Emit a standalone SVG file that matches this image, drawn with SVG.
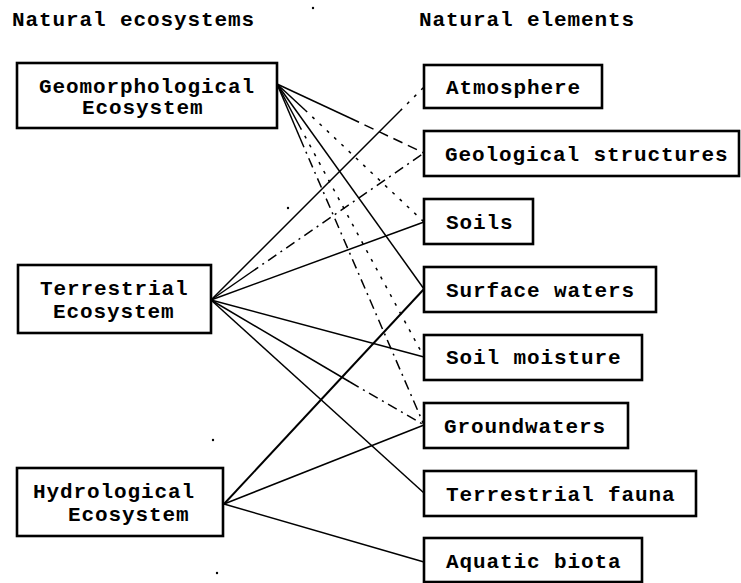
<svg xmlns="http://www.w3.org/2000/svg" width="741" height="583" viewBox="0 0 741 583">
<style>
.t{font-family:"Liberation Mono","Courier New",monospace;font-weight:bold;font-size:21px;letter-spacing:0.9px;fill:#000}
.b{fill:#fff;stroke:#000;stroke-width:2.6}
.c{fill:none;stroke:#000;stroke-width:1.5}
.thick{stroke-width:2}
.dash{stroke-dasharray:10 6}
.dot{stroke-dasharray:3 7}
.dd{stroke-dasharray:10 5 2 5}
</style>
<rect width="741" height="583" fill="#fff"/>
<text class="t" x="12" y="26">Natural ecosystems</text>
<text class="t" x="419" y="26">Natural elements</text>
<g id="connectors">
<path class="c" d="M277,84 L350,118"/>
<path class="c dash" d="M350,118 L424,153"/>
<path class="c" d="M277,84 L305,110"/>
<path class="c dot" d="M305,110 L424,222"/>
<path class="c" d="M277,84 L424,289"/>
<path class="c" d="M277,84 L300,127"/>
<path class="c dot" d="M300,127 L424,357"/>
<path class="c" d="M277,84 L300,138"/>
<path class="c dd" d="M300,138 L424,425"/>
<path class="c" d="M211,300 L400,111"/>
<path class="c dot" d="M400,111 L424,87"/>
<path class="c" d="M211,300 L250,273"/>
<path class="c dd" d="M250,273 L424,153"/>
<path class="c" d="M211,300 L424,222"/>
<path class="c" d="M211,300 L424,357"/>
<path class="c" d="M211,300 L350,382"/>
<path class="c dd" d="M350,382 L424,425"/>
<path class="c" d="M211,300 L424,493"/>
<path class="c thick" d="M224,504 L424,289"/>
<path class="c" d="M224,504 L424,425"/>
<path class="c" d="M224,504 L424,562"/>
</g>
<g id="geomorphological">
<rect class="b" x="17" y="63" width="260" height="65"/>
<text class="t" x="39" y="93">Geomorphological</text>
<text class="t" x="82" y="114">Ecosystem</text>
</g>
<g id="terrestrial">
<rect class="b" x="18" y="265" width="193" height="68"/>
<text class="t" x="40" y="295">Terrestrial</text>
<text class="t" x="53" y="318">Ecosystem</text>
</g>
<g id="hydrological">
<rect class="b" x="17" y="468" width="206" height="68"/>
<text class="t" x="33" y="498">Hydrological</text>
<text class="t" x="68" y="521">Ecosystem</text>
</g>
<g id="atmosphere">
<rect class="b" x="424" y="65" width="178" height="43"/>
<text class="t" x="446" y="94">Atmosphere</text>
</g>
<g id="geological">
<rect class="b" x="424" y="131" width="315" height="45"/>
<text class="t" x="445" y="161">Geological structures</text>
</g>
<g id="soils">
<rect class="b" x="424" y="199" width="109" height="45"/>
<text class="t" x="446" y="229">Soils</text>
</g>
<g id="surface">
<rect class="b" x="424" y="267" width="232" height="45"/>
<text class="t" x="446" y="297">Surface waters</text>
</g>
<g id="moisture">
<rect class="b" x="424" y="335" width="218" height="45"/>
<text class="t" x="446" y="364">Soil moisture</text>
</g>
<g id="groundwaters">
<rect class="b" x="424" y="403" width="204" height="45"/>
<text class="t" x="444" y="433">Groundwaters</text>
</g>
<g id="fauna">
<rect class="b" x="424" y="471" width="272" height="45"/>
<text class="t" x="446" y="501">Terrestrial fauna</text>
</g>
<g id="biota">
<rect class="b" x="424" y="538" width="218" height="44"/>
<text class="t" x="446" y="568">Aquatic biota</text>
</g>
<g id="specks" fill="#000">
<circle cx="313" cy="8" r="1.2"/>
<circle cx="288" cy="208" r="1.2"/>
<circle cx="213" cy="440" r="1.2"/>
<circle cx="217" cy="573" r="1.2"/>
</g>
</svg>
